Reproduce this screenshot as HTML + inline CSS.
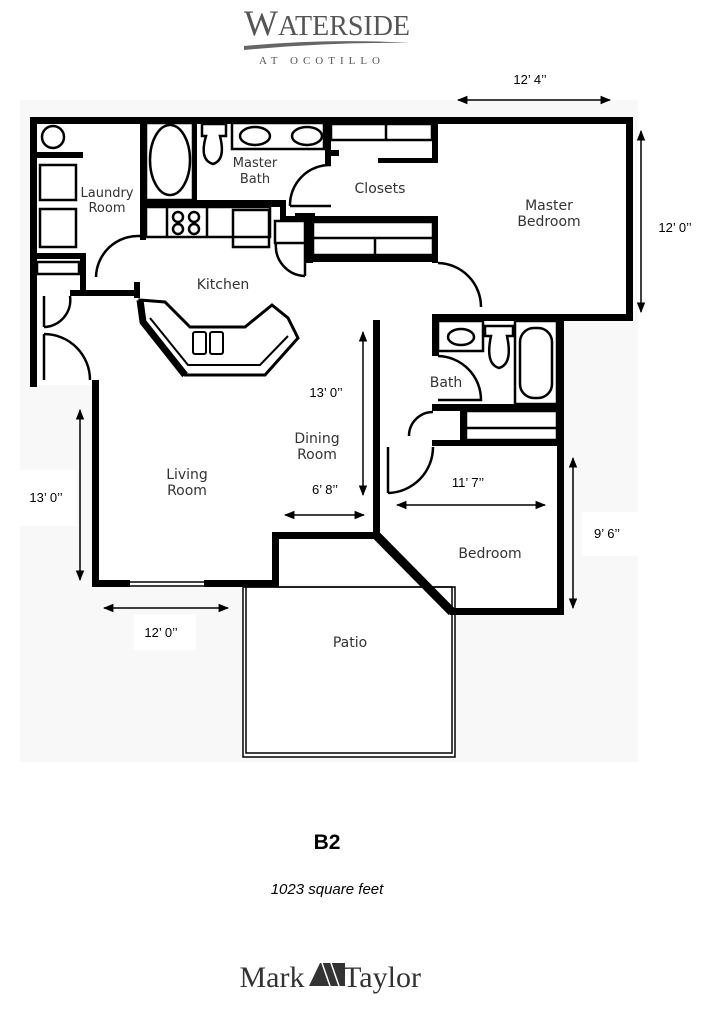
<!DOCTYPE html>
<html><head><meta charset="utf-8"><style>
html,body{margin:0;padding:0;background:#fff;}
body{width:713px;height:1024px;position:relative;overflow:hidden;font-family:"Liberation Sans",sans-serif;}
</style></head><body>
<svg width="713" height="1024" viewBox="0 0 713 1024" xmlns="http://www.w3.org/2000/svg" style="position:absolute;left:0;top:0">
<defs>
<marker id="a" viewBox="0 0 10 10" refX="9" refY="5" markerWidth="7" markerHeight="7" orient="auto-start-reverse"><path d="M0,1 L10,5 L0,9 z" fill="#000"/></marker>
</defs>
<!-- header logo -->
<text x="327" y="35" text-anchor="middle" font-family="Liberation Serif,serif" font-size="28" fill="#555" textLength="166" lengthAdjust="spacingAndGlyphs"><tspan font-size="36">W</tspan>ATERSIDE</text>
<path d="M244,46 Q330,38 410,43 Q330,42 244,50 z" fill="#666"/>
<text x="322" y="64" text-anchor="middle" font-family="Liberation Serif,serif" font-size="11" fill="#555" letter-spacing="5">AT OCOTILLO</text>

<!-- plan background -->
<rect x="20" y="100" width="618" height="662" fill="#f8f8f8"/>
<rect x="639" y="100" width="74" height="662" fill="#fff"/>
<rect x="20" y="470" width="56" height="56" fill="#fff"/>
<rect x="134" y="614" width="62" height="36" fill="#fff"/>
<rect x="582" y="512" width="56" height="44" fill="#fff"/>

<!-- interior room fill -->
<g fill="#fff">
<rect x="33" y="120" width="596" height="198"/>
<rect x="33" y="120" width="530" height="265"/>
<rect x="95" y="318" width="468" height="266"/>
<polygon points="95,384 378,384 378,535 450,612 560,612 560,318 378,318"/>
<rect x="243" y="587" width="212" height="170"/>
</g>

<g fill="#000">
<rect x="30" y="117" width="602" height="7"/>
<rect x="30" y="117" width="7" height="270"/>
<rect x="626" y="117" width="7" height="204"/>
<rect x="432" y="314" width="200" height="7"/>
<rect x="557" y="314" width="7" height="301"/>
<rect x="450" y="608" width="114" height="7"/>
<rect x="92" y="380" width="7" height="207"/>
<rect x="92" y="580" width="38" height="7"/>
<rect x="204" y="580" width="74" height="7"/>
<rect x="272" y="532" width="7" height="55"/>
<rect x="272" y="532" width="107" height="7"/>
<rect x="373" y="320" width="7" height="218"/>
<rect x="140" y="120" width="6" height="120"/>
<rect x="37" y="152" width="46" height="6"/>
<rect x="37" y="253" width="46" height="6"/>
<rect x="80" y="253" width="6" height="43"/>
<rect x="70" y="290" width="70" height="6"/>
<rect x="134" y="282" width="6" height="16"/>
<rect x="140" y="200" width="144" height="7"/>
<rect x="280" y="200" width="6" height="20"/>
<rect x="280" y="216" width="30" height="5"/>
<rect x="193" y="120" width="4" height="82"/>
<rect x="325" y="120" width="6" height="44"/>
<rect x="331" y="150" width="8" height="6"/>
<rect x="378" y="158" width="55" height="5"/>
<rect x="432" y="120" width="6" height="43"/>
<rect x="295" y="213" width="20" height="8"/>
<rect x="315" y="216" width="122" height="6"/>
<rect x="432" y="216" width="6" height="47"/>
<rect x="305" y="216" width="8" height="47"/>
<rect x="305" y="255" width="132" height="7"/>
<rect x="432" y="318" width="7" height="38"/>
<rect x="432" y="404" width="131" height="7"/>
<rect x="460" y="404" width="6" height="40"/>
<rect x="432" y="440" width="131" height="6"/>
</g>
<line x1="376" y1="535" x2="452" y2="612" stroke="#000" stroke-width="9"/>
<g stroke="#000" stroke-width="1.5" fill="none">
<line x1="130" y1="582" x2="204" y2="582"/><line x1="130" y1="586" x2="204" y2="586"/>
<rect x="243" y="587" width="212" height="170"/>
<rect x="246" y="587" width="206" height="166"/>
</g>
<g stroke="#000" stroke-width="2.5" fill="none">
<circle cx="53" cy="137" r="11"/>
<rect x="40" y="165" width="36" height="35"/>
<rect x="40" y="209" width="36" height="38"/>
<rect x="37" y="262" width="42" height="12"/>
<ellipse cx="170" cy="160" rx="20" ry="35"/>
<rect x="146" y="123" width="47" height="77"/>
<path d="M202,124 h24 v12 h-6 q6,24 -7,28 q-14,-4 -7,-28 h-4 z"/>
<rect x="232" y="123" width="92" height="26"/>
<ellipse cx="255" cy="136" rx="15" ry="9"/>
<ellipse cx="307" cy="136" rx="15" ry="9"/>
<rect x="331" y="124" width="101" height="16"/>
<line x1="386" y1="124" x2="386" y2="140"/>
<rect x="146" y="207" width="124" height="30"/>
<line x1="167" y1="207" x2="167" y2="237"/><line x1="207" y1="207" x2="207" y2="237"/>
<circle cx="178" cy="217" r="5"/><circle cx="194" cy="217" r="5"/>
<circle cx="178" cy="229" r="5"/><circle cx="194" cy="229" r="5"/>
<rect x="233" y="210" width="36" height="37"/>
<rect x="275" y="221" width="30" height="22"/>
<rect x="313" y="222" width="120" height="33"/>
<line x1="313" y1="238" x2="433" y2="238"/><line x1="375" y1="238" x2="375" y2="255"/>
<rect x="438" y="321" width="45" height="30"/>
<ellipse cx="461" cy="337" rx="13" ry="8"/>
<path d="M485,326 h28 v10 h-6 q6,28 -8,32 q-14,-4 -8,-32 h-6 z"/>
<rect x="515" y="321" width="42" height="83"/>
<rect x="520" y="328" width="32" height="70" rx="14"/>
<rect x="466" y="411" width="91" height="29"/>
<line x1="466" y1="428" x2="557" y2="428"/>
<path d="M96,277 A42,42 0 0 1 140,236"/>
<path d="M44,327 A27,27 0 0 0 70,296 M44,296 V327"/>
<path d="M44,334 A46,46 0 0 1 90,380 M44,334 V380"/>
<path d="M290,206 A40,40 0 0 1 331,165 M290,206 H331"/>
<path d="M276,243 A30,30 0 0 0 305,276 M305,243 V276"/>
<path d="M438,263 A44,44 0 0 1 481,307"/>
<path d="M438,356 A44,44 0 0 1 481,400 H438"/>
<path d="M409,436 A24,24 0 0 1 433,412"/>
<path d="M388,493 A46,46 0 0 0 433,447 M388,447 V493"/>
</g>
<!-- kitchen bar -->
<path d="M140,300 L143,322 L185,375 L265,375 L298,338 L288,318 L272,305 L245,327 L190,327 L165,302 Z" fill="#fff" stroke="#000" stroke-width="3"/>
<path d="M150,318 L188,365 L260,365 L288,336" fill="none" stroke="#000" stroke-width="2"/>
<path d="M140,300 L143,322 L185,375" fill="none" stroke="#000" stroke-width="7"/>
<rect x="193" y="332" width="13" height="22" rx="2" fill="none" stroke="#000" stroke-width="2"/>
<rect x="210" y="332" width="13" height="22" rx="2" fill="none" stroke="#000" stroke-width="2"/>

<g stroke="#000" stroke-width="1.5" marker-start="url(#a)" marker-end="url(#a)">
<line x1="458" y1="100" x2="610" y2="100"/>
<line x1="641" y1="131" x2="641" y2="312"/>
<line x1="80" y1="410" x2="80" y2="580"/>
<line x1="104" y1="608" x2="228" y2="608"/>
<line x1="363" y1="332" x2="363" y2="495"/>
<line x1="285" y1="515" x2="364" y2="515"/>
<line x1="397" y1="505" x2="545" y2="505"/>
<line x1="573" y1="458" x2="573" y2="608"/>
</g>
<g font-size="13" fill="#000" text-anchor="middle">
<text x="530" y="84">12’ 4’’</text>
<text x="675" y="232">12’ 0’’</text>
<text x="46" y="502">13’ 0’’</text>
<text x="161" y="637">12’ 0’’</text>
<text x="326" y="397">13’ 0’’</text>
<text x="325" y="494">6’ 8’’</text>
<text x="468" y="487">11’ 7’’</text>
<text x="607" y="538">9’ 6’’</text>
</g>
<g font-size="14" fill="#333" text-anchor="middle" font-family="DejaVu Sans,sans-serif">
<text x="107" y="197" font-size="13">Laundry</text><text x="107" y="212" font-size="13">Room</text>
<text x="255" y="167" font-size="13">Master</text><text x="255" y="183" font-size="13">Bath</text>
<text x="380" y="193">Closets</text>
<text x="549" y="210">Master</text><text x="549" y="226">Bedroom</text>
<text x="223" y="289">Kitchen</text>
<text x="446" y="387">Bath</text>
<text x="317" y="443">Dining</text><text x="317" y="459">Room</text>
<text x="187" y="479">Living</text><text x="187" y="495">Room</text>
<text x="490" y="558">Bedroom</text>
<text x="350" y="647">Patio</text>
</g>

<text x="327" y="849" text-anchor="middle" font-size="21" font-weight="bold">B2</text>
<text x="327" y="894" text-anchor="middle" font-size="15" font-style="italic">1023 square feet</text>

<text x="272" y="987" text-anchor="middle" font-family="Liberation Serif,serif" font-size="30" fill="#333">Mark</text>
<polygon points="309,986 320,963 345,963 345,986" fill="#333"/>
<g stroke="#fff" stroke-width="1.5"><line x1="322" y1="963" x2="330" y2="986"/><line x1="331" y1="963" x2="339" y2="986"/></g>
<text x="382" y="987" text-anchor="middle" font-family="Liberation Serif,serif" font-size="30" fill="#333">Taylor</text>
</svg>
</body></html>
